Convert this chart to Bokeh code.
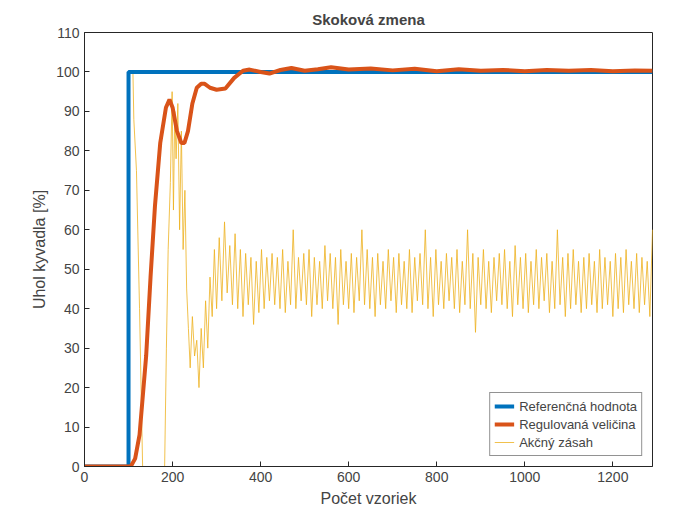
from bokeh.plotting import figure
from bokeh.models import Legend, FixedTicker
from bokeh.embed import file_html
from bokeh.resources import INLINE

# reference signal
ref_x = [0, 100, 100, 1290]
ref_y = [0, 0, 100, 100]

# controlled variable (keypoints)
reg_x = [0, 105, 115, 125, 140, 150, 160, 172, 185, 193, 200, 210, 220, 227, 235, 245, 255, 265, 273,
         285, 300, 320, 340, 360, 375, 400, 420, 445, 470, 500, 530, 560, 600, 650, 700, 750, 800,
         850, 900, 950, 1000, 1050, 1100, 1150, 1200, 1250, 1290]
reg_y = [0, 0, 2, 8, 28, 48, 66, 82, 91, 93, 91, 85, 82, 82, 85, 92, 96, 97, 97,
         96, 95.5, 95.8, 98.5, 100.3, 100.6, 100, 99.6, 100.5, 101, 100.3, 100.7, 101.2, 100.6, 100.9, 100.4, 100.8, 100.2,
         100.7, 100.3, 100.5, 100.2, 100.5, 100.3, 100.5, 100.2, 100.4, 100.3]

# control action, start-up part
act_x0 = [0, 100, 101, 110, 112, 118, 125, 132, 140, 182, 186, 190, 195, 199, 202, 205, 208, 212, 216,
          220, 224, 228, 232, 236, 240, 245, 250, 255, 260, 265, 270, 275, 280, 285, 290, 295]
act_y0 = [0, 0, 100, 100, 88, 75, 40, 0, 0, 0, 30, 55, 72, 95, 65, 90, 78, 92, 60,
          85, 55, 70, 45, 35, 25, 38, 28, 32, 20, 35, 25, 42, 30, 48, 38, 55]
# control action, steady part (one value every 6 samples from 300)
act_y1 = [40, 58, 42, 62, 44, 56, 41, 59, 40, 55, 38, 54, 41, 53, 36, 52, 39, 55, 40, 53,
          42, 54, 41, 53, 40, 55, 39, 52, 41, 60, 40, 53, 42, 54, 41, 55, 38, 53, 41, 52,
          40, 56, 42, 54, 40, 53, 36, 55, 41, 52, 40, 54, 39, 53, 42, 60, 41, 55, 40, 53,
          38, 54, 41, 52, 40, 55, 42, 53, 39, 54, 41, 52, 40, 55, 39, 53, 42, 54, 41, 60,
          40, 53, 38, 55, 41, 52, 40, 54, 42, 53, 40, 55, 39, 52, 41, 60, 40, 54, 34, 53,
          41, 55, 40, 52, 39, 53, 42, 54, 41, 55, 40, 52, 38, 56, 41, 53, 40, 54, 39, 52,
          41, 55, 40, 53, 42, 54, 39, 52, 40, 60, 41, 53, 38, 54, 40, 55, 41, 52, 39, 53,
          40, 54, 41, 52, 39, 55, 40, 53, 41, 52, 38, 54, 40, 53, 39, 55, 41, 52, 40, 54,
          39, 53, 41, 52, 38, 60, 40, 53]
act_x = act_x0 + [300 + 6 * i for i in range(len(act_y1))]
act_y = act_y0 + act_y1

font = "Liberation Sans"
p = figure(width=684, height=509, output_backend="svg", toolbar_location=None,
           x_range=(0, 1290), y_range=(0, 110), title="Skoková zmena",
           x_axis_label="Počet vzoriek", y_axis_label="Uhol kyvadla [%]",
           min_border_left=84, min_border_right=32, min_border_top=32, min_border_bottom=42)
p.title.align = "center"
p.title.text_font = font
p.title.text_font_size = "15px"
p.title.text_font_style = "bold"
p.grid.visible = False
p.outline_line_color = "#262626"

for ax in (p.xaxis, p.yaxis):
    ax.axis_label_text_font = font
    ax.axis_label_text_font_size = "16px"
    ax.axis_label_text_font_style = "normal"
    ax.major_label_text_font = font
    ax.major_label_text_font_size = "14px"
    ax.axis_line_color = "#262626"
    ax.major_tick_line_color = "#262626"
    ax.major_tick_in = 5
    ax.major_tick_out = 0
    ax.minor_tick_line_color = None
p.xaxis.ticker = FixedTicker(ticks=[0, 200, 400, 600, 800, 1000, 1200])
p.yaxis.ticker = FixedTicker(ticks=list(range(0, 111, 10)))

r1 = p.line(ref_x, ref_y, line_color="#0072BD", line_width=4)
r2 = p.line(reg_x, reg_y, line_color="#D95319", line_width=4)
r3 = p.line(act_x, act_y, line_color="#EDB120", line_width=0.8)
p.renderers = [r3, r1, r2]

legend = Legend(items=[("Referenčná hodnota", [r1]), ("Regulovaná veličina", [r2]), ("Akčný zásah", [r3])],
                location="bottom_right", label_text_font=font, label_text_font_size="13px",
                border_line_color="#262626", spacing=0, padding=4, glyph_height=18, label_height=18)
p.add_layout(legend)

open("out.html", "w").write(file_html(p, INLINE))
